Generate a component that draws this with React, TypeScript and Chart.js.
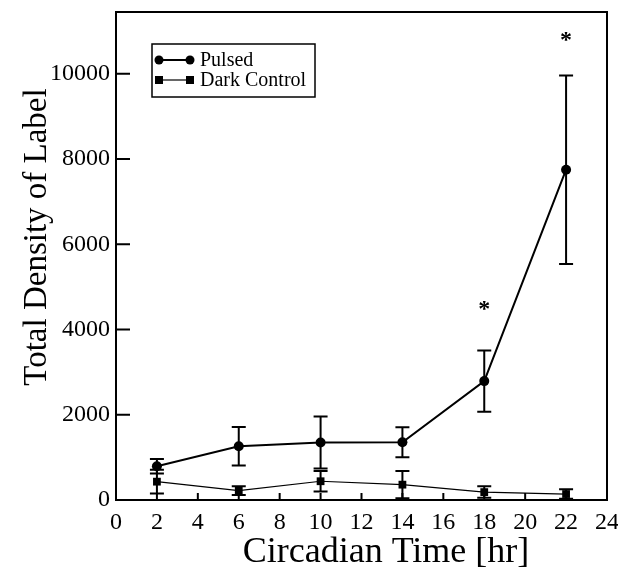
import React, { useEffect, useRef } from 'react';
import { Chart, registerables } from 'chart.js';

Chart.register(...registerables);

// ---- data ----
const hours = [2, 6, 10, 14, 18, 22];
const pulsed = [790, 1260, 1350, 1355, 2790, 7750];
const pulsedErr = [170, 450, 610, 350, 720, 2210];
const dark = [430, 220, 440, 360, 185, 140];
const darkErr = [280, 100, 240, 320, 135, 110];
const seriesLabels = ['Pulsed', 'Dark Control'];
const starHours = [18, 22];
const starValues = [4540, 10840];
const xTitle = 'Circadian Time [hr]';
const yTitle = 'Total Density of Label';
const xTickValues = [0, 2, 4, 6, 8, 10, 12, 14, 16, 18, 20, 22, 24];
const yTickValues = [0, 2000, 4000, 6000, 8000, 10000];
const xMin = 0, xMax = 24;
const yMin = 0, yMax = 11450;

const FONT = "'Liberation Serif', 'Times New Roman', serif";

export default function App() {
  const ref = useRef<HTMLCanvasElement>(null);

  useEffect(() => {
    if (!ref.current) return;

    const errorBars = {
      id: 'errorBars',
      beforeDatasetsDraw(chart: any) {
        const ctx = chart.ctx;
        const xs = chart.scales.x, ys = chart.scales.y;
        chart.data.datasets.forEach((ds: any) => {
          const errs: number[] = ds.errors || [];
          ctx.save();
          ctx.strokeStyle = '#000';
          ctx.lineWidth = ds.errWidth || 2;
          ds.data.forEach((p: any, i: number) => {
            const e = errs[i];
            if (e == null) return;
            const px = xs.getPixelForValue(p.x);
            const top = ys.getPixelForValue(p.y + e);
            const bot = ys.getPixelForValue(Math.max(p.y - e, yMin));
            const cap = 7;
            ctx.beginPath();
            ctx.moveTo(px, top); ctx.lineTo(px, bot);
            ctx.moveTo(px - cap, top); ctx.lineTo(px + cap, top);
            ctx.moveTo(px - cap, bot); ctx.lineTo(px + cap, bot);
            ctx.stroke();
          });
          ctx.restore();
        });
      },
    };

    const frameAndExtras = {
      id: 'frameAndExtras',
      afterDraw(chart: any) {
        const ctx = chart.ctx;
        const { left, right, top, bottom } = chart.chartArea;
        const xs = chart.scales.x, ys = chart.scales.y;
        ctx.save();
        ctx.strokeStyle = '#000';
        ctx.lineWidth = 2;
        ctx.strokeRect(left, top, right - left, bottom - top);
        // ticks (inward)
        ctx.beginPath();
        ys.ticks.forEach((t: any) => {
          const py = ys.getPixelForValue(t.value);
          ctx.moveTo(left, py); ctx.lineTo(left + 14, py);
        });
        xs.ticks.forEach((t: any) => {
          const px = xs.getPixelForValue(t.value);
          ctx.moveTo(px, bottom); ctx.lineTo(px, bottom - 7);
        });
        ctx.stroke();

        // axis titles
        ctx.fillStyle = '#000';
        ctx.textAlign = 'center';
        ctx.textBaseline = 'middle';
        ctx.font = `36px ${FONT}`;
        ctx.fillText(xTitle, 386, 553);
        ctx.save();
        ctx.translate(37, 237);
        ctx.rotate(-Math.PI / 2);
        ctx.font = `33px ${FONT}`;
        ctx.fillText(yTitle, 0, 0);
        ctx.restore();

        // significance stars
        ctx.font = `bold 24px ${FONT}`;
        ctx.textAlign = 'center';
        ctx.textBaseline = 'alphabetic';
        starHours.forEach((h, i) => {
          const px = xs.getPixelForValue(h);
          const py = ys.getPixelForValue(starValues[i]);
          ctx.fillText('*', px, py + 9);
        });

        // legend box
        const lx = 152, ly = 44, lw = 163, lh = 53;
        ctx.lineWidth = 1.5;
        ctx.strokeRect(lx, ly, lw, lh);
        ctx.font = `20px ${FONT}`;
        ctx.textAlign = 'left';
        ctx.textBaseline = 'middle';
        chart.data.datasets.forEach((ds: any, i: number) => {
          const cy = ly + 16 + i * 20;
          const x1 = lx + 7, x2 = lx + 38;
          ctx.lineWidth = ds.borderWidth;
          ctx.beginPath();
          ctx.moveTo(x1, cy); ctx.lineTo(x2, cy);
          ctx.stroke();
          [x1, x2].forEach((mx) => {
            ctx.beginPath();
            if (ds.pointStyle === 'rect') {
              ctx.rect(mx - 4, cy - 4, 8, 8);
            } else {
              ctx.arc(mx, cy, 4.5, 0, Math.PI * 2);
            }
            ctx.fill();
          });
          ctx.fillText(ds.label, lx + 48, cy + 1);
        });
        ctx.restore();
      },
    };

    const chart = new Chart(ref.current, {
      type: 'line',
      data: {
        datasets: [
          {
            label: seriesLabels[0],
            data: hours.map((h, i) => ({ x: h, y: pulsed[i] })),
            borderColor: '#000',
            backgroundColor: '#000',
            borderWidth: 2,
            pointRadius: 5,
            pointStyle: 'circle',
            pointBorderWidth: 0,
            errors: pulsedErr,
            errWidth: 2,
          } as any,
          {
            label: seriesLabels[1],
            data: hours.map((h, i) => ({ x: h, y: dark[i] })),
            borderColor: '#000',
            backgroundColor: '#000',
            borderWidth: 1.2,
            pointRadius: 5.5,
            pointStyle: 'rect',
            pointBorderWidth: 0,
            errors: darkErr,
            errWidth: 2,
          } as any,
        ],
      },
      options: {
        responsive: false,
        animation: false,
        layout: { padding: { left: 0, top: 12, right: 11, bottom: 0 } },
        plugins: { legend: { display: false }, tooltip: { enabled: false } },
        scales: {
          x: {
            type: 'linear',
            min: xMin,
            max: xMax,
            grid: { display: false, drawTicks: false },
            border: { display: false },
            ticks: { color: '#000', font: { family: FONT, size: 24 }, padding: 8, maxRotation: 0, autoSkip: false },
            afterBuildTicks: (s: any) => { s.ticks = xTickValues.map((v) => ({ value: v })); },
            title: { display: false, text: xTitle },
            afterFit: (s: any) => { s.height = 73; s.paddingLeft = 0; s.paddingRight = 0; },
          },
          y: {
            type: 'linear',
            min: yMin,
            max: yMax,
            grid: { display: false, drawTicks: false },
            border: { display: false },
            ticks: { color: '#000', font: { family: FONT, size: 24 }, padding: 6, callback: (v: any) => String(v) },
            afterBuildTicks: (s: any) => { s.ticks = yTickValues.map((v) => ({ value: v })); },
            title: { display: false, text: yTitle },
            afterFit: (s: any) => { s.width = 116; s.paddingTop = 0; s.paddingBottom = 0; },
          },
        },
      } as any,
      plugins: [errorBars, frameAndExtras],
    });

    return () => chart.destroy();
  }, []);

  return (
    <div style={{ position: 'absolute', left: 0, top: 0, width: 618, height: 573, background: '#fff' }}>
      <canvas ref={ref} width={618} height={573} style={{ display: 'block' }} />
    </div>
  );
}
